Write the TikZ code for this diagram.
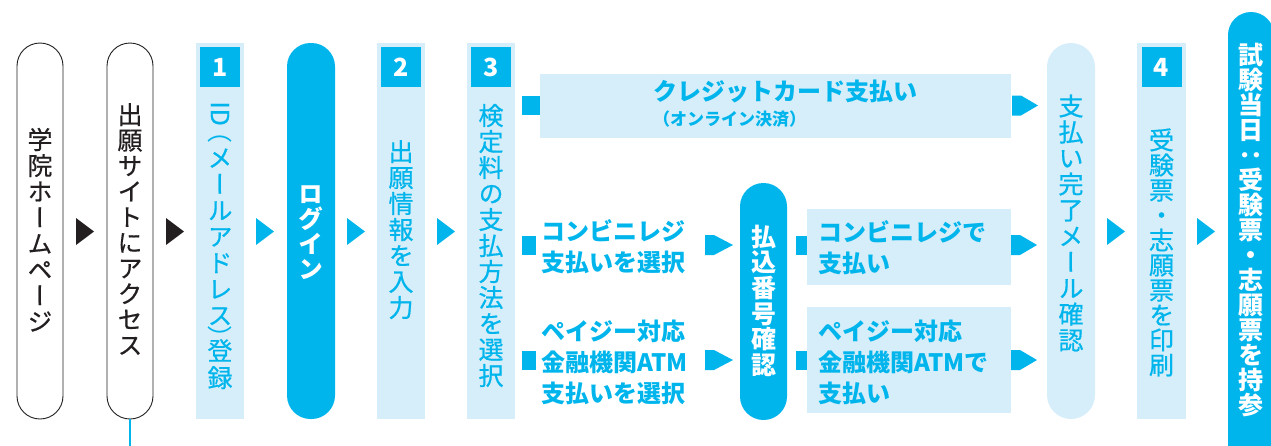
\documentclass[tikz,border=0pt]{standalone}
\usepackage{fontspec}
\setmainfont{Noto Sans CJK JP}
\newfontfamily\vjp[RawFeature=+vert, UprightFeatures={FakeBold=0.6}]{Noto Sans CJK JP}
\definecolor{cy}{RGB}{0,181,236}
\definecolor{lb}{RGB}{214,237,250}
\definecolor{ink}{RGB}{35,31,32}
\newcommand\vch[1]{\hbox to 1em{\hss\raisebox{0pt}[.88em][.12em]{#1}\hss}}
\newcommand\vrot[1]{\vch{\rotatebox[origin=c]{-90}{#1}}}
\makeatletter
\newcommand\vstk[2][1pt]{\vbox{\offinterlineskip\@tfor\vs@c:=#2\do{\vch{\vs@c}\kern#1}}}
\makeatother
\newcommand\arrtri[3]{\fill[#3] (#1,#2-13.5) -- (#1+18,#2) -- (#1,#2+13.5) -- cycle;}
\newcommand\arrpent[3]{\fill[cy] (#1,#2-10) -- (#1+9,#2-10) -- (#1+#3,#2) -- (#1+9,#2+10) -- (#1,#2+10) -- cycle;}
\tikzset{
  vtext/.style={inner sep=0pt, font=\vjp\fontsize{25}{25}\selectfont},
  vbold/.style={inner sep=0pt, font=\vjp\bfseries\fontsize{25}{25}\selectfont, text=white},
  htext/.style={inner sep=0pt, align=left, text=cy, font=\bfseries\fontsize{24}{31}\selectfont},
  outpill/.style={draw=ink, line width=0.9pt, fill=white, rounded corners=23pt, minimum width=46pt, minimum height=376pt, inner sep=0pt},
  cypill/.style={fill=cy, rounded corners=23.5pt, minimum width=47pt, inner sep=0pt},
  lbpill/.style={fill=lb, rounded corners=24pt, minimum width=48pt, minimum height=376pt, inner sep=0pt},
  stepbox/.style={fill=lb, minimum width=48pt, minimum height=376pt, inner sep=0pt},
  lbbox/.style={fill=lb, inner sep=0pt},
  badge/.style={fill=cy, text=white, minimum size=40pt, inner sep=0pt, font=\bfseries\fontsize{25}{25}\selectfont},
  sq/.style={fill=cy, inner sep=0pt, minimum width=14pt, minimum height=19pt}
}
\begin{document}
\begin{tikzpicture}[x=1pt,y=-1pt]
\useasboundingbox (0,0) rectangle (1271,445);
\begin{scope}
\clip (0,0) rectangle (1271,445);
% first two outlined pills
\node[outpill] (hp) at (40,231) {};
\node[vtext, text=ink] (hpt) at (40,231) {\vstk{学院ホームページ}};
\node[outpill] (site) at (130,231) {};
\node[vtext, text=ink] (sitet) at (130,230) {\vstk[0.6pt]{出願サイトにアクセス}};
\coordinate (lineend) at (130,460);
\draw[cy, line width=1.3pt] (site.south) -- (lineend);
\arrtri{76}{231.5}{ink}
\arrtri{166}{231.5}{ink}
% step 1
\node[stepbox] (s1) at (220,231) {};
\node[badge] (b1) at (220,67) {1};
\node[vtext, text=cy, anchor=north] (s1t) at (220,100.6) {\vbox{\offinterlineskip
  \vrot{ID}\kern-7.6pt\vrot{\rmfamily （}\kern2pt
  \vch{メ}\kern1.25pt\vch{ー}\kern1.25pt\vch{ル}\kern1.25pt\vch{ア}\kern1.25pt\vch{ド}\kern1.25pt\vch{レ}\kern1.25pt\vch{ス}\kern-2.5pt
  \vrot{\rmfamily ）}\kern-12pt\vch{登}\kern2pt\vch{録}}};
\arrtri{256}{231.5}{cy}
% login
\node[cypill, minimum width=48pt, minimum height=376pt] (login) at (311,231) {};
\node[vbold] (logint) at (311,231) {\vstk[0pt]{ログイン}};
\arrtri{347}{231.5}{cy}
% step 2
\node[stepbox] (s2) at (401,231) {};
\node[badge] (b2) at (401,67) {2};
\node[vtext, text=cy] (s2t) at (401,230) {\vstk{出願情報を入力}};
\arrtri{437}{231.5}{cy}
% step 3
\node[stepbox] (s3) at (491,231) {};
\node[badge] (b3) at (491,67) {3};
\node[vtext, text=cy] (s3t) at (491,246) {\vstk{検定料の支払方法を選択}};
% credit card row
\node[sq, minimum width=18pt] (q1) at (531,105.5) {};
\node[lbbox, minimum width=471pt, minimum height=64pt] (credit) at (775.5,106) {};
\node[htext, anchor=north west] (creditt) at (653,80) {クレジットカード支払い\\[-6pt]{\fontsize{17}{17}\selectfont （オンライン決済）}};
\arrpent{1012}{105.5}{26}
% convenience store row
\node[sq] (q2) at (529,245) {};
\node[htext, anchor=west] (conv) at (541,247) {コンビニレジ\\支払いを選択};
\arrpent{705}{245}{28}
\node[sq] (q3) at (529,360) {};
\node[htext, anchor=west] (payeasy) at (541,362) {ペイジー対応\\金融機関ATM\\支払いを選択};
\arrpent{705}{360}{28}
% payment number pill
\node[cypill, minimum height=237pt] (num) at (763.5,301.5) {};
\node[vbold] (numt) at (763.5,301) {\vstk[0.6pt]{払込番号確認}};
\node[sq, minimum width=12pt] (q4) at (802,245) {};
\node[sq, minimum width=12pt] (q5) at (802,360) {};
\node[lbbox, minimum width=204pt, minimum height=76pt] (convpay) at (909,247) {};
\node[htext, anchor=west] (convpayt) at (818,248) {コンビニレジで\\支払い};
\node[lbbox, minimum width=204pt, minimum height=106pt] (pepay) at (909,360) {};
\node[htext, anchor=west] (pepayt) at (818,362) {ペイジー対応\\金融機関ATMで\\支払い};
\arrpent{1011}{245}{26}
\arrpent{1011}{360}{26}
% mail confirmation
\node[lbpill] (mail) at (1071,231) {};
\node[vtext, text=cy] (mailt) at (1071,223.5) {\vstk{支払い完了メール確認}};
\arrtri{1107}{231.5}{cy}
% step 4
\node[stepbox, minimum width=49pt] (s4) at (1161.5,231) {};
\node[badge] (b4) at (1161.5,67) {4};
\node[vtext, text=cy] (s4t) at (1161.5,252.5) {\vstk[0pt]{受験票・志願票を印刷}};
\arrtri{1197}{231.5}{cy}
% exam day
\node[cypill, minimum width=46pt, minimum height=470pt, rounded corners=23pt] (exam) at (1251,247) {};
\node[vbold] (examt) at (1251,229.5) {\vstk[0pt]{試験当日：受験票・志願票を持参}};
\end{scope}
\end{tikzpicture}
\end{document}
